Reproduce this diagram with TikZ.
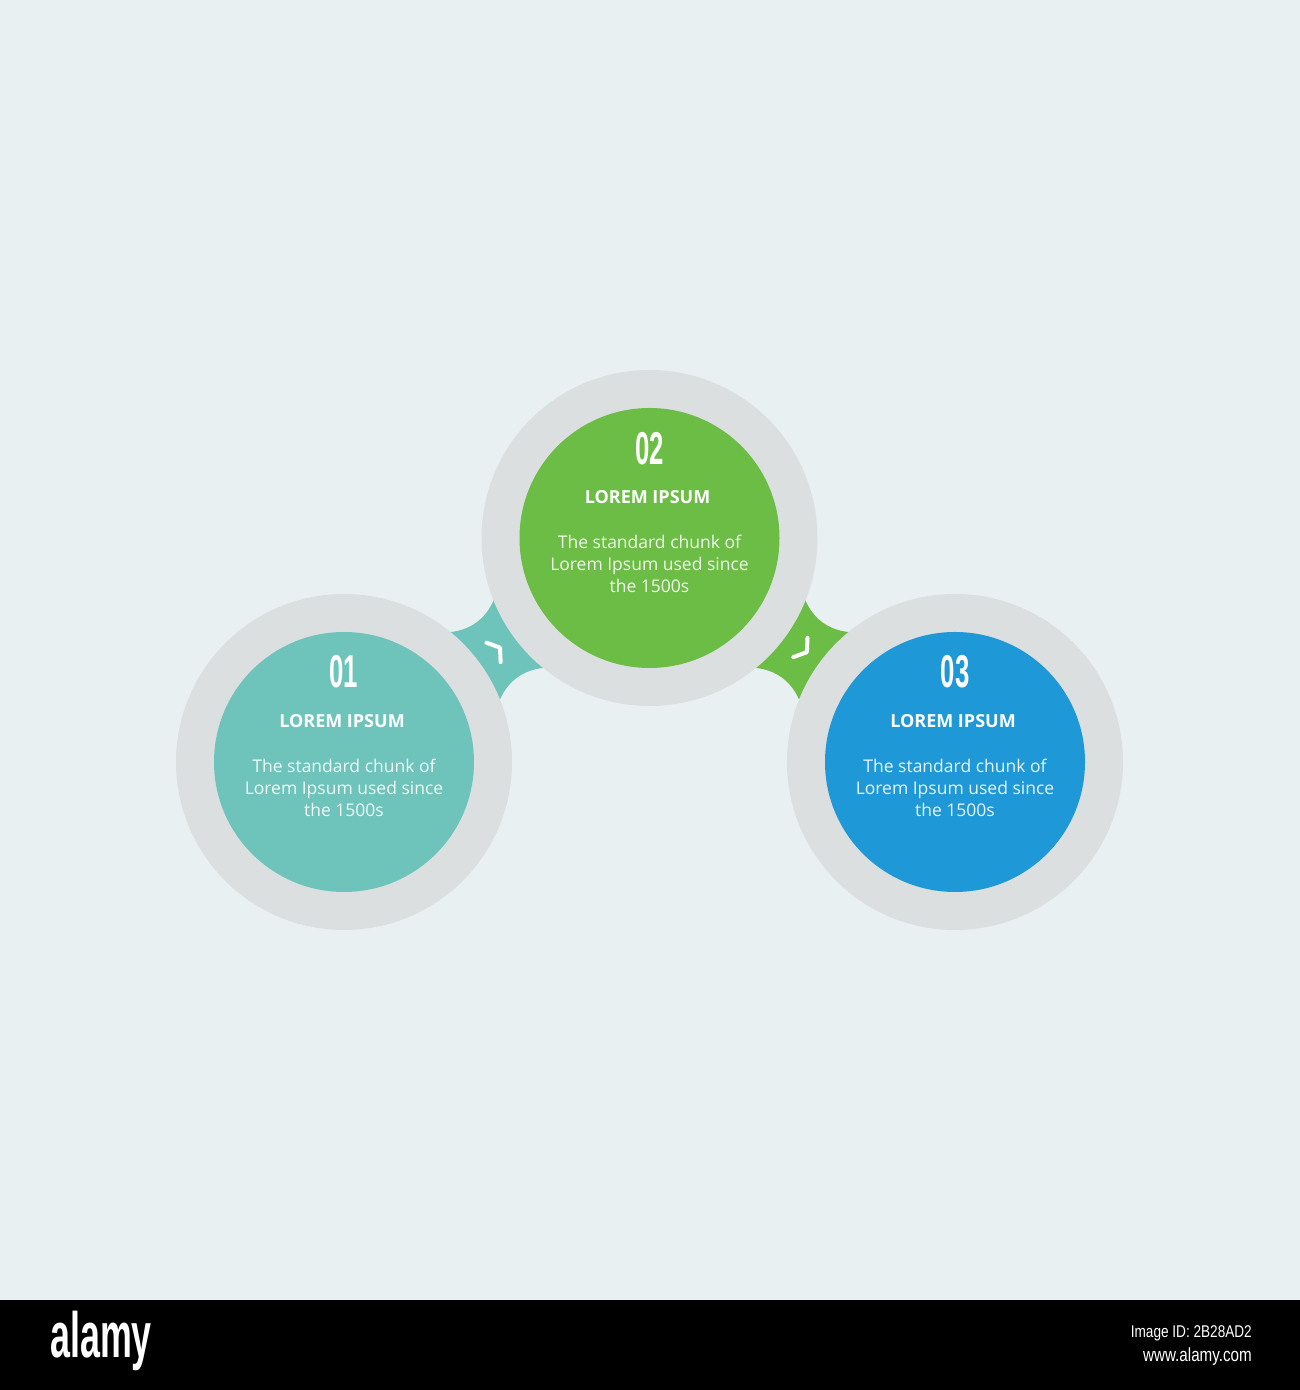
\documentclass[tikz,border=0pt]{standalone}
\usepackage{fontspec}
\usepackage{graphicx}
\setmainfont{Open Sans}
\newfontfamily\numfont{Liberation Sans}
\usetikzlibrary{calc}
\definecolor{bgc}{HTML}{E9F0F1}
\definecolor{ringc}{HTML}{DCDFE0}
\definecolor{tealc}{HTML}{6EC4BA}
\definecolor{greenc}{HTML}{6BBD45}
\definecolor{bluec}{HTML}{1E98D6}
\tikzset{
  ringdisc/.style={circle, fill=ringc, minimum size=336pt, inner sep=0pt},
  colordisc/.style={circle, minimum size=260pt, inner sep=0pt},
  numtext/.style={text=white, inner sep=0pt, font=\numfont\bfseries\fontsize{46}{46}\selectfont},
  titletext/.style={text=white, inner sep=0pt, font=\bfseries\fontsize{18}{20}\selectfont},
  bodytext/.style={text=white, text opacity=0.9, inner sep=0pt, align=center, font=\fontsize{17.5}{22}\selectfont},
  chev/.style={draw=white, line width=4pt, line cap=round, line join=round}
}
\newcommand{\numlbl}[1]{\scalebox{0.56}[1]{#1}}
\begin{document}
\begin{tikzpicture}[x=1pt,y=1pt]
\useasboundingbox (0,0) rectangle (1300,1390);
\fill[bgc] (0,90) rectangle (1300,1390);
\fill[black] (0,0) rectangle (1300,90);

% ring positions
\coordinate (c1) at (344,628);
\coordinate (c2) at (649.5,852);
\coordinate (c3) at (955,628);
\coordinate (m1) at ($(c1)!0.5!(c2)$);
\coordinate (m2) at ($(c2)!0.5!(c3)$);

% bridges
\begin{scope}[shift={(m1)}, rotate=36.25]
  \fill[tealc] (-38,50) .. controls (-14,29) and (14,29) .. (38,50) -- (38,-50)
     .. controls (14,-29) and (-14,-29) .. (-38,-50) -- cycle;
  \draw[chev] (-4,12) -- (4,0) -- (-4,-12);
\end{scope}
\begin{scope}[shift={(m2)}, rotate=-36.25]
  \fill[greenc] (-38,50) .. controls (-14,29) and (14,29) .. (38,50) -- (38,-50)
     .. controls (14,-29) and (-14,-29) .. (-38,-50) -- cycle;
  \draw[chev] (-3,13) -- (5,1) -- (-3,-11);
\end{scope}

% rings and discs
\node[ringdisc] (r1) at (c1) {};
\node[ringdisc] (r2) at (c2) {};
\node[ringdisc] (r3) at (c3) {};
\node[colordisc, fill=tealc] (d1) at (c1) {};
\node[colordisc, fill=greenc] (d2) at (c2) {};
\node[colordisc, fill=bluec] (d3) at (c3) {};

% texts circle 1
\node[numtext] (n1) at ($(d1)+(0,90)$) {\numlbl{01}};
\node[titletext] (t1) at ($(d1)+(-2,41)$) {LOREM IPSUM};
\node[bodytext] (b1) at ($(d1)+(0,-26)$) {The standard chunk of\\Lorem Ipsum used since\\the 1500s};
% circle 2
\node[numtext] (n2) at ($(d2)+(0,89)$) {\numlbl{02}};
\node[titletext] (t2) at ($(d2)+(-2,41)$) {LOREM IPSUM};
\node[bodytext] (b2) at ($(d2)+(0,-26)$) {The standard chunk of\\Lorem Ipsum used since\\the 1500s};
% circle 3
\node[numtext] (n3) at ($(d3)+(0,90)$) {\numlbl{03}};
\node[titletext] (t3) at ($(d3)+(-2,41)$) {LOREM IPSUM};
\node[bodytext] (b3) at ($(d3)+(0,-26)$) {The standard chunk of\\Lorem Ipsum used since\\the 1500s};

% footer
\node[anchor=base west, inner sep=0pt, text=white] (logo) at (50,32)
  {\scalebox{0.56}[1]{\numfont\bfseries\fontsize{64}{64}\selectfont alamy}};
\node[anchor=base east, inner sep=0pt, text=white] (imgid) at (1252,52)
  {\scalebox{0.8}[1]{\numfont\fontsize{17}{17}\selectfont Image ID: 2B28AD2}};
\node[anchor=base east, inner sep=0pt, text=white] (www) at (1252,28)
  {\scalebox{0.8}[1]{\numfont\fontsize{19}{19}\selectfont www.alamy.com}};
\end{tikzpicture}
\end{document}
